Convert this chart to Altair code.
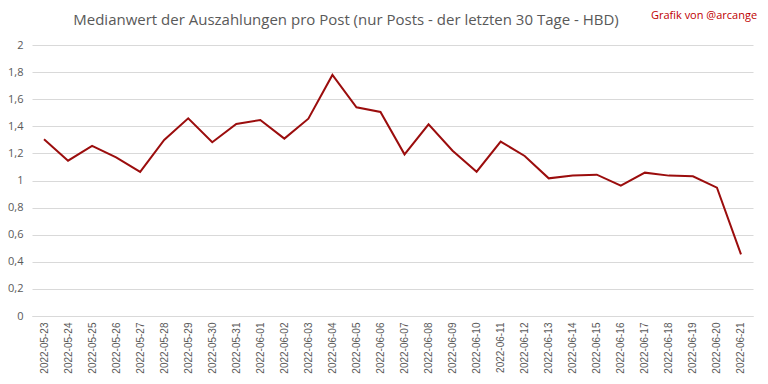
import altair as alt
import pandas as pd

dates = ["2022-05-23","2022-05-24","2022-05-25","2022-05-26","2022-05-27","2022-05-28","2022-05-29",
         "2022-05-30","2022-05-31","2022-06-01","2022-06-02","2022-06-03","2022-06-04","2022-06-05",
         "2022-06-06","2022-06-07","2022-06-08","2022-06-09","2022-06-10","2022-06-11","2022-06-12",
         "2022-06-13","2022-06-14","2022-06-15","2022-06-16","2022-06-17","2022-06-18","2022-06-19",
         "2022-06-20","2022-06-21"]
values = [1.304, 1.146, 1.255, 1.171, 1.063, 1.299, 1.459, 1.282, 1.417, 1.446, 1.309,
          1.456, 1.779, 1.540, 1.506, 1.193, 1.415, 1.220, 1.065, 1.287, 1.181,
          1.016, 1.036, 1.043, 0.962, 1.058, 1.036, 1.031, 0.947, 0.455]
y_ticks = [0, 0.2, 0.4, 0.6, 0.8, 1, 1.2, 1.4, 1.6, 1.8, 2]
title_text = "Medianwert der Auszahlungen pro Post (nur Posts - der letzten 30 Tage - HBD)"
credit_text = "Grafik von @arcange"

df = pd.DataFrame({"date": dates, "value": values})
FONT = "Open Sans"

base = alt.Chart(df)

line = base.mark_line(color="#9B0D0D", strokeWidth=2).encode(
    x=alt.X("date:N", sort=None,
            scale=alt.Scale(type="point", padding=0.5),
            axis=alt.Axis(title=None, labelAngle=270, labelFontSize=10, labelColor="#595959",
                          labelFont="Liberation Sans", labelPadding=6, ticks=False,
                          domainColor="#d9d9d9", domainWidth=1, grid=False)),
    y=alt.Y("value:Q", scale=alt.Scale(domain=[0, 2], nice=False),
            axis=alt.Axis(title=None, values=y_ticks, labelFontSize=11, labelColor="#595959",
                          labelFont=FONT, labelPadding=9, ticks=False, domain=False,
                          gridColor="#d9d9d9", gridWidth=1,
                          labelExpr="replace(format(datum.value, ''), '.', ',')")),
)

title = alt.Chart(pd.DataFrame({"t": [title_text]})).mark_text(
    font=FONT, fontSize=15, color="#595959", align="center", baseline="middle"
).encode(x=alt.value(314), y=alt.value(-25), text="t:N")

credit = alt.Chart(pd.DataFrame({"t": [credit_text]})).mark_text(
    font=FONT, fontSize=11, color="#C00000", align="center", baseline="middle"
).encode(x=alt.value(672), y=alt.value(-29), text="t:N")

chart = alt.layer(line, title, credit).properties(
    width=721, height=271,
    padding={"left": 24, "top": 37, "right": 7, "bottom": 60},
    autosize=alt.AutoSizeParams(type="none"),
).configure_view(stroke=None)

chart.save("out.html", embed_options={"renderer": "svg", "actions": False})
